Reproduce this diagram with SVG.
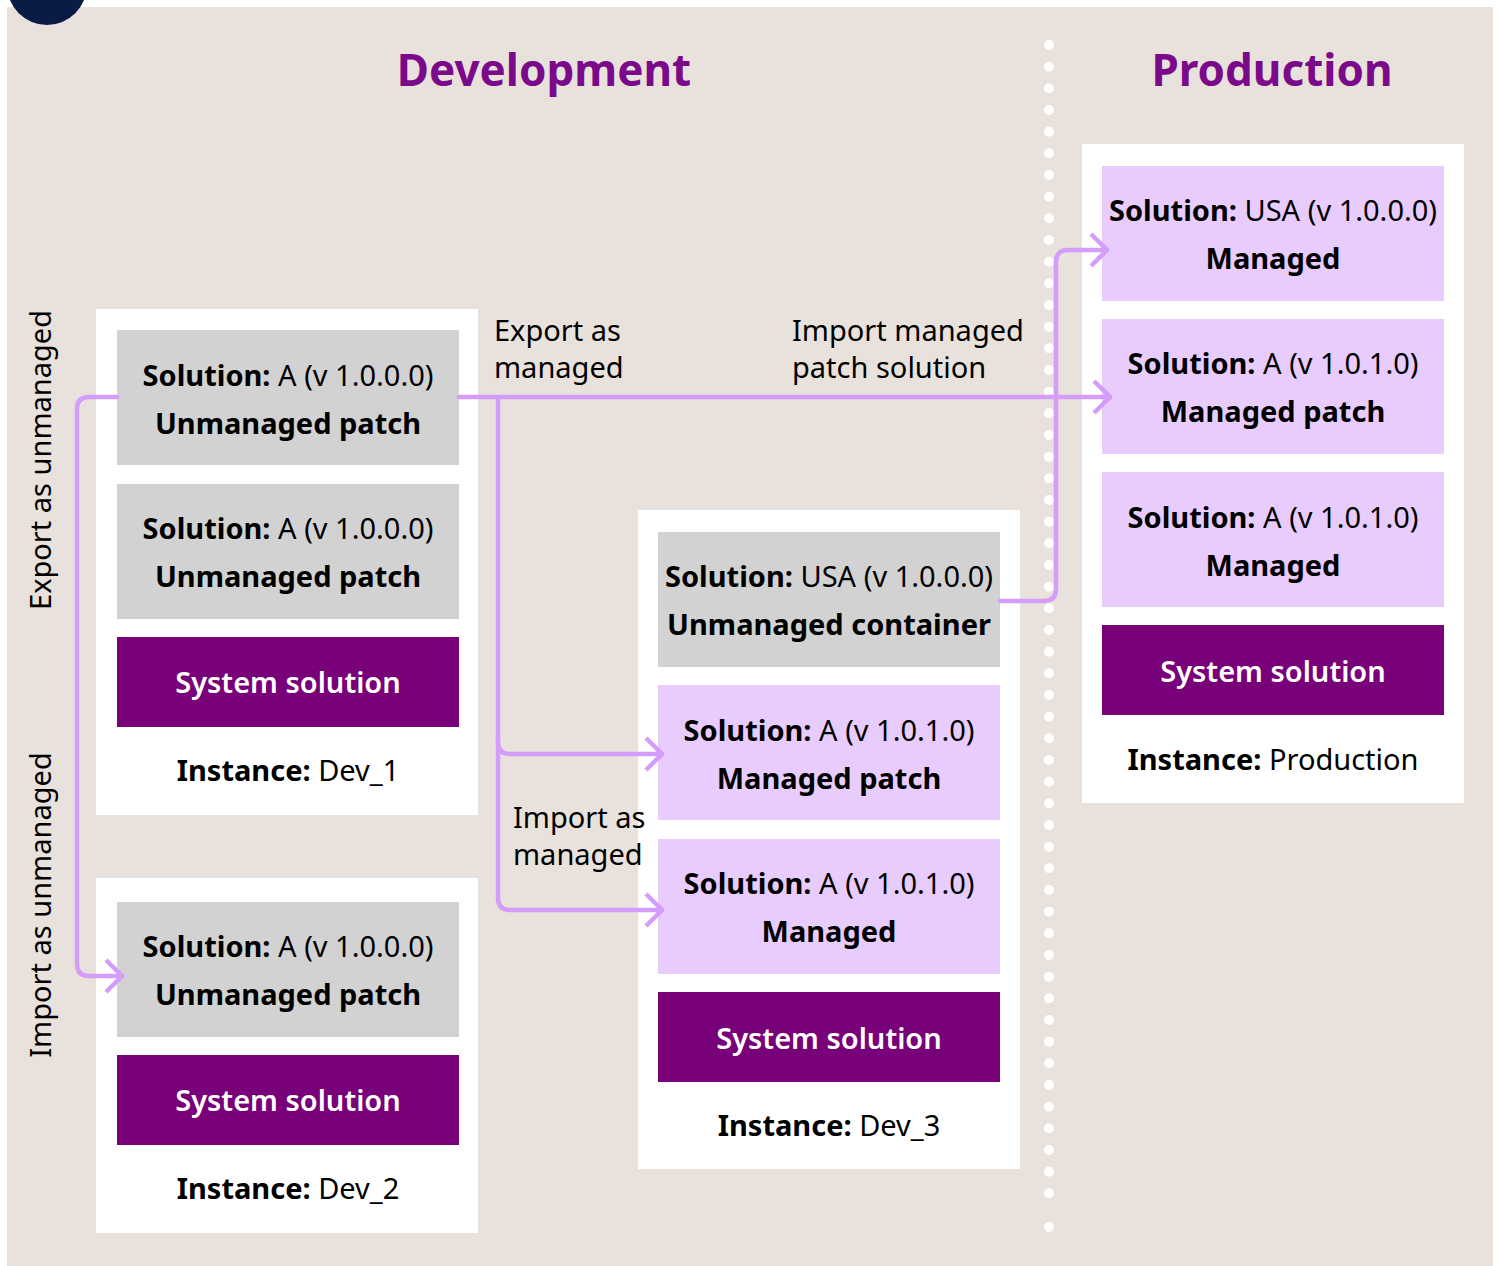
<svg xmlns="http://www.w3.org/2000/svg" width="1499" height="1266" viewBox="0 0 1499 1266">
<style>
text{font-family:"Noto Sans","Liberation Sans",sans-serif;font-size:29px;fill:#000}
.b{font-weight:bold}
.t{font-size:44px;font-weight:bold;fill:#7A0A8A;text-anchor:middle}
.c{text-anchor:middle}
.w{fill:#fff;font-weight:600}
.gray{fill:#D2D2D2}
.lil{fill:#E8CCFE}
.pur{fill:#780078}
.panel{fill:#fff}
.ln{fill:none;stroke:#D59DFA;stroke-width:4.5;stroke-linecap:round;stroke-linejoin:round}
</style>
<defs>
<marker id="ah" markerWidth="20" markerHeight="36" refX="18" refY="18" orient="auto" markerUnits="userSpaceOnUse">
<path d="M2,2 L18,18 L2,34" fill="none" stroke="#D59DFA" stroke-width="4.5"/>
</marker>
</defs>
<rect x="0" y="0" width="1499" height="1266" fill="#fff"/>
<rect x="7" y="7" width="1486" height="1259" fill="#E9E2DC"/>
<circle cx="47" cy="-15" r="40" fill="#0A1C45"/>
<g id="dots" fill="#fff">
<circle cx="1049" cy="45" r="5"/><circle cx="1049" cy="66.7" r="5"/><circle cx="1049" cy="88.3" r="5"/><circle cx="1049" cy="110" r="5"/><circle cx="1049" cy="131.7" r="5"/><circle cx="1049" cy="153.3" r="5"/><circle cx="1049" cy="175" r="5"/><circle cx="1049" cy="196.7" r="5"/><circle cx="1049" cy="218.3" r="5"/><circle cx="1049" cy="240" r="5"/><circle cx="1049" cy="261.7" r="5"/><circle cx="1049" cy="283.3" r="5"/><circle cx="1049" cy="305" r="5"/><circle cx="1049" cy="326.7" r="5"/><circle cx="1049" cy="348.3" r="5"/><circle cx="1049" cy="370" r="5"/><circle cx="1049" cy="391.7" r="5"/><circle cx="1049" cy="413.3" r="5"/><circle cx="1049" cy="435" r="5"/><circle cx="1049" cy="456.7" r="5"/><circle cx="1049" cy="478.3" r="5"/><circle cx="1049" cy="500" r="5"/><circle cx="1049" cy="521.7" r="5"/><circle cx="1049" cy="543.3" r="5"/><circle cx="1049" cy="565" r="5"/><circle cx="1049" cy="586.7" r="5"/><circle cx="1049" cy="608.3" r="5"/><circle cx="1049" cy="630" r="5"/><circle cx="1049" cy="651.7" r="5"/><circle cx="1049" cy="673.3" r="5"/><circle cx="1049" cy="695" r="5"/><circle cx="1049" cy="716.7" r="5"/><circle cx="1049" cy="738.3" r="5"/><circle cx="1049" cy="760" r="5"/><circle cx="1049" cy="781.7" r="5"/><circle cx="1049" cy="803.3" r="5"/><circle cx="1049" cy="825" r="5"/><circle cx="1049" cy="846.7" r="5"/><circle cx="1049" cy="868.3" r="5"/><circle cx="1049" cy="890" r="5"/><circle cx="1049" cy="911.7" r="5"/><circle cx="1049" cy="933.3" r="5"/><circle cx="1049" cy="955" r="5"/><circle cx="1049" cy="976.7" r="5"/><circle cx="1049" cy="998.3" r="5"/><circle cx="1049" cy="1020" r="5"/><circle cx="1049" cy="1041.7" r="5"/><circle cx="1049" cy="1063.3" r="5"/><circle cx="1049" cy="1085" r="5"/><circle cx="1049" cy="1106.7" r="5"/><circle cx="1049" cy="1128.3" r="5"/><circle cx="1049" cy="1150" r="5"/><circle cx="1049" cy="1171.7" r="5"/><circle cx="1049" cy="1193.3" r="5"/><circle cx="1049" cy="1227" r="5"/>
</g>
<text class="t" x="544" y="86">Development</text>
<text class="t" x="1272" y="86">Production</text>

<g id="dev1">
<rect class="panel" x="96" y="309" width="382" height="506"/>
<rect class="gray" x="117" y="330" width="342" height="135"/>
<text class="c" x="288" y="386"><tspan class="b">Solution:</tspan> A (v 1.0.0.0)</text>
<text class="c b" x="288" y="434">Unmanaged patch</text>
<rect class="gray" x="117" y="484" width="342" height="135"/>
<text class="c" x="288" y="539"><tspan class="b">Solution:</tspan> A (v 1.0.0.0)</text>
<text class="c b" x="288" y="587">Unmanaged patch</text>
<rect class="pur" x="117" y="637" width="342" height="90"/>
<text class="c w" x="288" y="693">System solution</text>
<text class="c" x="288" y="781"><tspan class="b">Instance:</tspan> Dev_1</text>
</g>

<g id="dev2">
<rect class="panel" x="96" y="878" width="382" height="355"/>
<rect class="gray" x="117" y="902" width="342" height="135"/>
<text class="c" x="288" y="957"><tspan class="b">Solution:</tspan> A (v 1.0.0.0)</text>
<text class="c b" x="288" y="1005">Unmanaged patch</text>
<rect class="pur" x="117" y="1055" width="342" height="90"/>
<text class="c w" x="288" y="1111">System solution</text>
<text class="c" x="288" y="1199"><tspan class="b">Instance:</tspan> Dev_2</text>
</g>

<g id="dev3">
<rect class="panel" x="638" y="510" width="382" height="659"/>
<rect class="gray" x="658" y="532" width="342" height="135"/>
<text class="c" x="829" y="587"><tspan class="b">Solution:</tspan> USA (v 1.0.0.0)</text>
<text class="c b" x="829" y="635">Unmanaged container</text>
<rect class="lil" x="658" y="685" width="342" height="135"/>
<text class="c" x="829" y="741"><tspan class="b">Solution:</tspan> A (v 1.0.1.0)</text>
<text class="c b" x="829" y="789">Managed patch</text>
<rect class="lil" x="658" y="839" width="342" height="135"/>
<text class="c" x="829" y="894"><tspan class="b">Solution:</tspan> A (v 1.0.1.0)</text>
<text class="c b" x="829" y="942">Managed</text>
<rect class="pur" x="658" y="992" width="342" height="90"/>
<text class="c w" x="829" y="1049">System solution</text>
<text class="c" x="829" y="1136"><tspan class="b">Instance:</tspan> Dev_3</text>
</g>

<g id="prod">
<rect class="panel" x="1082" y="144" width="382" height="659"/>
<rect class="lil" x="1102" y="166" width="342" height="135"/>
<text class="c" x="1273" y="221"><tspan class="b">Solution:</tspan> USA (v 1.0.0.0)</text>
<text class="c b" x="1273" y="269">Managed</text>
<rect class="lil" x="1102" y="319" width="342" height="135"/>
<text class="c" x="1273" y="374"><tspan class="b">Solution:</tspan> A (v 1.0.1.0)</text>
<text class="c b" x="1273" y="422">Managed patch</text>
<rect class="lil" x="1102" y="472" width="342" height="135"/>
<text class="c" x="1273" y="528"><tspan class="b">Solution:</tspan> A (v 1.0.1.0)</text>
<text class="c b" x="1273" y="576">Managed</text>
<rect class="pur" x="1102" y="625" width="342" height="90"/>
<text class="c w" x="1273" y="682">System solution</text>
<text class="c" x="1273" y="770"><tspan class="b">Instance:</tspan> Production</text>
</g>

<g id="connectors">
<path class="ln" d="M117,397 H89 Q77,397 77,409 V964 Q77,976 89,976 H122" marker-end="url(#ah)"/>
<path class="ln" d="M459,397 H1110" marker-end="url(#ah)"/>
<path class="ln" d="M498,397 V742 Q498,754 510,754 H662" marker-end="url(#ah)"/>
<path class="ln" d="M498,740 V898 Q498,910 510,910 H662" marker-end="url(#ah)"/>
<path class="ln" d="M1000,601 H1044 Q1056,601 1056,589 V262 Q1056,250 1068,250 H1107" marker-end="url(#ah)"/>
</g>

<g id="labels">
<text x="494" y="341">Export as</text>
<text x="494" y="378">managed</text>
<text x="792" y="341">Import managed</text>
<text x="792" y="378">patch solution</text>
<text x="513" y="828">Import as</text>
<text x="513" y="865">managed</text>
<text class="c" transform="translate(51,460) rotate(-90)">Export as unmanaged</text>
<text class="c" transform="translate(51,905) rotate(-90)">Import as unmanaged</text>
</g>
</svg>
